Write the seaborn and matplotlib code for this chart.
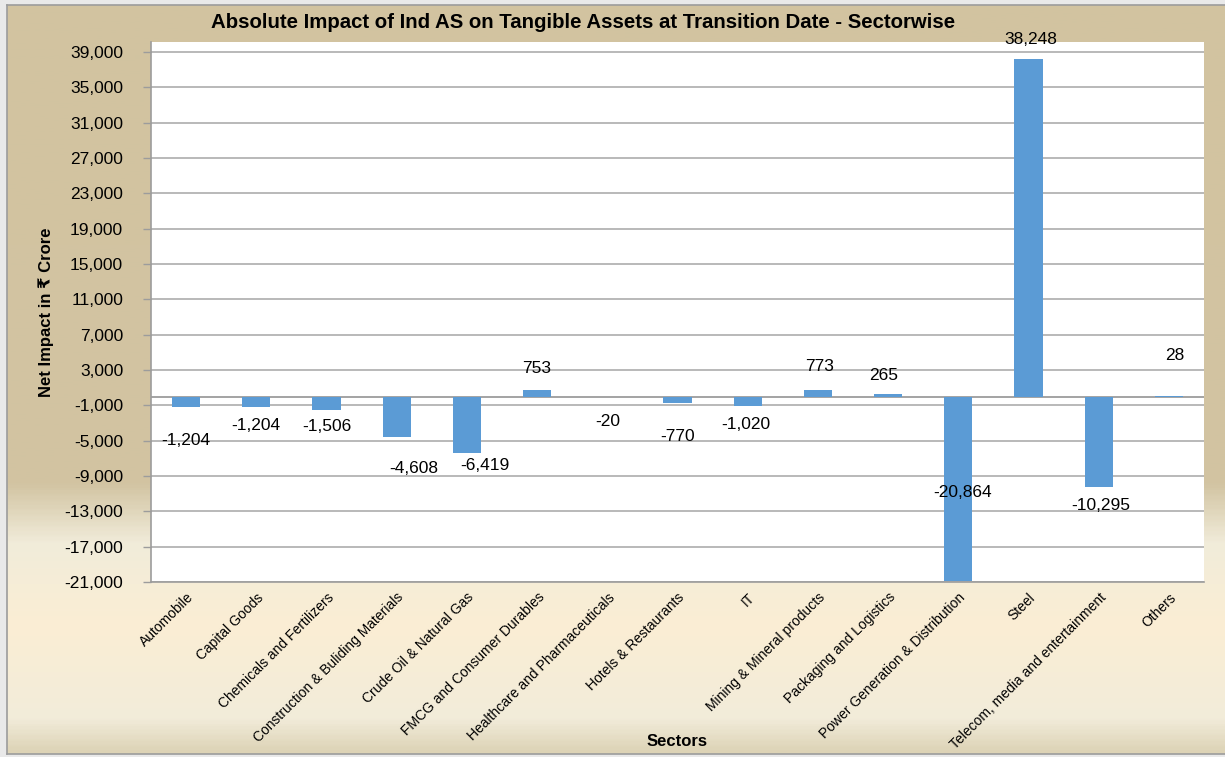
import matplotlib
matplotlib.use("Agg")
import matplotlib.pyplot as plt
import numpy as np
import pandas as pd
import seaborn as sns
from matplotlib.colors import LinearSegmentedColormap

# dados do grafico
sectors = ["Automobile", "Capital Goods", "Chemicals and Fertilizers",
           "Construction & Buliding Materials", "Crude Oil & Natural Gas",
           "FMCG and Consumer Durables", "Healthcare and Pharmaceuticals",
           "Hotels & Restaurants", "IT", "Mining & Mineral products",
           "Packaging and Logistics", "Power Generation & Distribution",
           "Steel", "Telecom, media and entertainment", "Others"]
impact = [-1204, -1204, -1506, -4608, -6419, 753, -20, -770, -1020,
          773, 265, -20864, 38248, -10295, 28]
y_ticks = list(range(-21000, 39001, 4000))

# deslocamento dos rotulos (pixels) como no original
label_offsets = [(0, -33), (0, -18), (0, -17), (17, -31), (18, -12),
                 (0, 21), (0, -25), (0, -33), (-2, -19), (2, 23),
                 (-4, 19), (4, 88), (2, 19), (2, -18), (6, 41)]

df = pd.DataFrame({"Sector": sectors, "Impact": impact})

sns.set_style("white")
plt.rcParams["font.family"] = ["Liberation Sans", "DejaVu Sans"]
plt.rcParams["text.color"] = "black"
plt.rcParams["axes.labelcolor"] = "black"

W, H = 1225, 757
fig = plt.figure(figsize=(W / 100, H / 100), dpi=100)
fig.patch.set_facecolor("#E9E9E9")

# fundo em degrade
bg = fig.add_axes([7 / W, 3 / H, 1 - 7 / W, 1 - 8 / H], zorder=0)
stops = [(0.0, "#D2C3A0"), (0.64, "#D2C4A2"), (0.72, "#F1ECDA"),
         (0.83, "#FBEED4"), (0.955, "#F2ECDA"), (1.0, "#DDD3B6")]
cmap = LinearSegmentedColormap.from_list("bg", stops)
grad = np.linspace(0, 1, 400).reshape(-1, 1)
bg.imshow(grad, aspect="auto", cmap=cmap, extent=[0, 1, 0, 1], origin="upper")
bg.set_xticks([])
bg.set_yticks([])
for s in bg.spines.values():
    s.set_color("#9C9C9C")
    s.set_linewidth(1.2)
bg.spines["right"].set_visible(False)

ax = fig.add_axes([151 / W, 1 - 582 / H, (1204 - 151) / W, (582 - 42) / H], zorder=1)
ax.set_facecolor("white")

sns.barplot(data=df, x="Sector", y="Impact", color="#5B9BD5", width=0.4,
            saturation=1, linewidth=0, edgecolor="none", ax=ax, zorder=3)

ax.set_ylim(-21000, 40150)
ax.set_yticks(y_ticks)
ax.set_yticklabels([f"{v:,}" for v in y_ticks], fontsize=12.5)
ax.yaxis.grid(True, color="#A5A5A5", linewidth=1.1, zorder=0)
ax.set_axisbelow(True)
ax.axhline(0, color="#9C9C9C", linewidth=1.3, zorder=2)

ax.tick_params(axis="y", length=6, width=1, color="#9C9C9C", pad=14,
               left=True, labelcolor="black")
ax.tick_params(axis="x", length=0, pad=6, labelcolor="black")
ax.set_xticks(range(len(sectors)))
ax.set_xticklabels(sectors, rotation=45, ha="right", rotation_mode="anchor",
                   fontsize=10)

for s in ["top", "right"]:
    ax.spines[s].set_visible(False)
for s in ["left", "bottom"]:
    ax.spines[s].set_color("#9C9C9C")
    ax.spines[s].set_linewidth(1.2)

ax.set_xlabel("")
ax.set_ylabel("Net Impact in \u20b9 Crore", fontsize=12, fontweight="bold")
ax.yaxis.set_label_coords(-0.092, 0.5)

# rotulos de dados
for i, (v, off) in enumerate(zip(impact, label_offsets)):
    ax.annotate(f"{v:,}", (i, v), xytext=off, textcoords="offset pixels",
                ha="center", va="center", fontsize=12.5, zorder=5)

fig.text(583 / W, 1 - 22 / H,
         "Absolute Impact of Ind AS on Tangible Assets at Transition Date - Sectorwise",
         ha="center", va="center", fontsize=14.7, fontweight="bold")
fig.text(677 / W, 1 - 742 / H, "Sectors", ha="center", va="center",
         fontsize=12, fontweight="bold")

plt.savefig("out.png", dpi=100)
